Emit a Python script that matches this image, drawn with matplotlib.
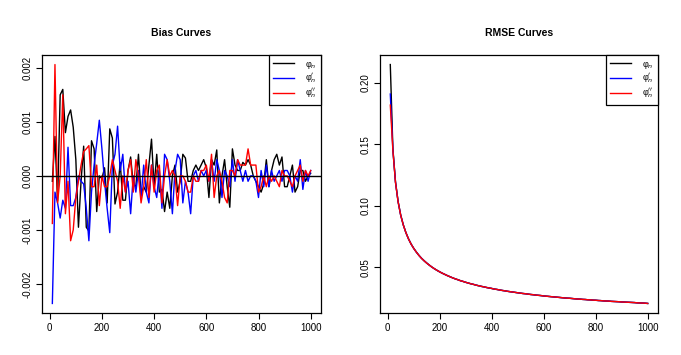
import matplotlib
matplotlib.use("Agg")
import matplotlib.pyplot as plt
import numpy as np

plt.rcParams['font.family'] = ['Liberation Sans', 'DejaVu Sans']
plt.rcParams['mathtext.fontset'] = 'dejavusans'

n_values = list(range(10, 1001, 10))

bias_phi = [
    -0.0001, 0.00073, -0.00047, 0.0015, 0.0016, 0.0008, 0.0011, 0.00122, 0.0009, 0.0003,
    -0.00095, -0.0001, 0.00055, -0.00095, -0.00102, 0.00065, 0.0005, -0.00066, 0.0, -0.00005,
    0.00015, -0.0005, 0.00087, 0.0007, -0.00052, -0.0003, 0.00025, -0.00045, -0.00045, 0.0001,
    0.00035, -0.00015, -0.0002, 0.0004, -0.00035, -0.0002, -0.0003, 0.0002, 0.00068, -0.0002,
    0.0004, -0.0003, -0.00025, -0.00066, -0.0003, -0.0006, 0.0, 0.0002, -0.0003, -0.0001,
    0.0004, 0.00033, -0.0001, -0.0001, 0.0001, 0.0002, 0.0001, 0.0002, 0.0003, 0.00015,
    -0.0004, 0.0003, 0.0002, 0.00048, -0.0005, 0.0, 0.0003, -0.0002, -0.00058, 0.0005,
    0.0002, 0.0001, 0.0001, 0.00025, 0.0002, 0.0003, 0.0002, 0.0, -0.0001, -0.0002,
    -0.0003, -0.00015, 0.0003, -0.0002, 0.0001, 0.0003, 0.0004, 0.0002, 0.00035, -0.0002,
    -0.0002, 0.0, 0.0002, -0.0003, -0.0002, 0.0001, 0.0001, -0.0001, 0.0, 0.00005,
]
bias_phi1 = [
    -0.00236, -0.0003, -0.0005, -0.00078, -0.00045, -0.0006, 0.00053, -0.00055, -0.00055, -0.0004,
    0.0, -0.0001, -0.00015, -0.0006, -0.0012, -0.0003, 0.0002, 0.0006, 0.00103, 0.0005,
    -0.0001, -0.0006, -0.00105, 0.0002, 0.0004, 0.00092, 0.0001, 0.0004, -0.0003, -0.0001,
    -0.0007, 0.0, -0.0003, 0.0001, -0.0004, 0.0002, -0.0003, -0.0005, 0.0002, -0.0002,
    -0.0004, 0.0001, -0.0006, 0.0004, 0.0003, -0.0001, -0.0007, 0.0001, 0.0004, 0.0003,
    -0.0005, -0.0001, -0.0003, -0.0007, 0.0, 0.0001, -0.0001, 0.0001, 0.0, 0.0001,
    -0.0001, 0.0003, -0.0001, 0.0003, 0.0001, -0.0004, 0.0001, 0.0, -0.0002, 0.0003,
    -0.0001, 0.0003, 0.0001, -0.0001, 0.0001, -0.0001, 0.0, 0.0, -0.0001, -0.0004,
    0.0001, -0.0002, 0.0002, -0.0002, 0.0001, -0.0001, 0.0, 0.0001, -0.0001, 0.0001,
    0.0001, 0.0, -0.0003, 0.0, -0.0001, 0.0003, -0.00025, 0.0001, -0.0001, 0.0001,
]
bias_phi2 = [
    -0.00088, 0.00206, -0.0005, 0.0, 0.0015, -0.0007, -0.0001, -0.0012, -0.001, -0.0004,
    -0.0001, 0.0002, 0.00045, 0.0005, 0.00056, -0.0002, -0.0002, 0.0002, -0.00055, 0.0,
    -0.0002, -0.0002, 0.0, 0.0003, 0.0001, -0.0001, -0.0006, 0.0, -0.0003, 0.0001,
    0.0003, -0.0003, 0.0003, 0.0, -0.0005, -0.0002, 0.0003, -0.0004, 0.0002, -0.0003,
    0.0001, 0.0002, -0.0005, 0.0, 0.0003, 0.0, 0.0001, 0.0, -0.00055, 0.0,
    0.0, -0.0001, -0.0003, -0.0003, 0.0, -0.0001, -0.0001, 0.0001, 0.0001, 0.0002,
    -0.0001, 0.0004, -0.0004, 0.0, 0.0001, -0.0001, -0.0004, -0.0005, 0.0001, 0.0001,
    0.0, 0.0003, 0.0002, 0.0002, 0.0002, 0.0005, 0.0002, 0.0002, 0.0002, -0.0003,
    -0.0002, 0.0, -0.0002, 0.0, -0.0001, 0.0, -0.0001, -0.0002, 0.0001, 0.0,
    0.0, -0.0001, -0.0002, 0.0, 0.0001, 0.0002, -0.0001, 0.0001, 0.0, 0.0001,
]

rmse_phi = [
    0.2150, 0.1465, 0.1196, 0.1036, 0.0926, 0.0846, 0.0783, 0.0732, 0.0690, 0.0655,
    0.0625, 0.0598, 0.0574, 0.0554, 0.0535, 0.0518, 0.0502, 0.0488, 0.0475, 0.0463,
    0.0452, 0.0442, 0.0432, 0.0423, 0.0414, 0.0406, 0.0399, 0.0391, 0.0385, 0.0378,
    0.0372, 0.0366, 0.0361, 0.0355, 0.0350, 0.0345, 0.0341, 0.0336, 0.0332, 0.0328,
    0.0323, 0.0320, 0.0316, 0.0312, 0.0309, 0.0305, 0.0302, 0.0299, 0.0296, 0.0293,
    0.0290, 0.0287, 0.0285, 0.0282, 0.0279, 0.0277, 0.0274, 0.0272, 0.0270, 0.0267,
    0.0265, 0.0263, 0.0261, 0.0259, 0.0257, 0.0255, 0.0253, 0.0251, 0.0249, 0.0248,
    0.0246, 0.0244, 0.0242, 0.0241, 0.0239, 0.0238, 0.0236, 0.0235, 0.0233, 0.0232,
    0.0230, 0.0229, 0.0227, 0.0226, 0.0225, 0.0223, 0.0222, 0.0221, 0.0220, 0.0218,
    0.0217, 0.0216, 0.0215, 0.0214, 0.0213, 0.0211, 0.0210, 0.0209, 0.0208, 0.0206,
]
rmse_phi1 = [
    0.1910, 0.1455, 0.1192, 0.1034, 0.0924, 0.0845, 0.0782, 0.0731, 0.0689, 0.0654,
    0.0624, 0.0597, 0.0574, 0.0553, 0.0535, 0.0518, 0.0502, 0.0488, 0.0475, 0.0463,
    0.0452, 0.0442, 0.0432, 0.0423, 0.0414, 0.0406, 0.0399, 0.0391, 0.0385, 0.0378,
    0.0372, 0.0366, 0.0361, 0.0355, 0.0350, 0.0345, 0.0341, 0.0336, 0.0332, 0.0328,
    0.0323, 0.0320, 0.0316, 0.0312, 0.0309, 0.0305, 0.0302, 0.0299, 0.0296, 0.0293,
    0.0290, 0.0287, 0.0285, 0.0282, 0.0279, 0.0277, 0.0274, 0.0272, 0.0270, 0.0267,
    0.0265, 0.0263, 0.0261, 0.0259, 0.0257, 0.0255, 0.0253, 0.0251, 0.0249, 0.0248,
    0.0246, 0.0244, 0.0242, 0.0241, 0.0239, 0.0238, 0.0236, 0.0235, 0.0233, 0.0232,
    0.0230, 0.0229, 0.0227, 0.0226, 0.0225, 0.0223, 0.0222, 0.0221, 0.0220, 0.0218,
    0.0217, 0.0216, 0.0215, 0.0214, 0.0213, 0.0211, 0.0210, 0.0209, 0.0208, 0.0206,
]
rmse_phi2 = [
    0.1820, 0.1450, 0.1190, 0.1033, 0.0924, 0.0844, 0.0782, 0.0731, 0.0689, 0.0654,
    0.0624, 0.0597, 0.0573, 0.0553, 0.0534, 0.0518, 0.0502, 0.0488, 0.0475, 0.0463,
    0.0452, 0.0442, 0.0432, 0.0423, 0.0414, 0.0406, 0.0399, 0.0391, 0.0385, 0.0378,
    0.0372, 0.0366, 0.0361, 0.0355, 0.0350, 0.0345, 0.0341, 0.0336, 0.0332, 0.0328,
    0.0323, 0.0320, 0.0316, 0.0312, 0.0309, 0.0305, 0.0302, 0.0299, 0.0296, 0.0293,
    0.0290, 0.0287, 0.0285, 0.0282, 0.0279, 0.0277, 0.0274, 0.0272, 0.0270, 0.0267,
    0.0265, 0.0263, 0.0261, 0.0259, 0.0257, 0.0255, 0.0253, 0.0251, 0.0249, 0.0248,
    0.0246, 0.0244, 0.0242, 0.0241, 0.0239, 0.0238, 0.0236, 0.0235, 0.0233, 0.0232,
    0.0230, 0.0229, 0.0227, 0.0226, 0.0225, 0.0223, 0.0222, 0.0221, 0.0220, 0.0218,
    0.0217, 0.0216, 0.0215, 0.0214, 0.0213, 0.0211, 0.0210, 0.0209, 0.0208, 0.0206,
]

series_labels = ["φ" + r"$_n$", "φ" + r"$_n^{\prime}$", "φ" + r"$_n^{\prime\prime}$"]
series_colors = ["black", "blue", "red"]
x_ticks = [0, 200, 400, 600, 800, 1000]
bias_yticks = [-0.002, -0.001, 0.0, 0.001, 0.002]
bias_yticklabels = ["-0.002", "-0.001", "0.000", "0.001", "0.002"]
rmse_yticks = [0.05, 0.10, 0.15, 0.20]
rmse_yticklabels = ["0.05", "0.10", "0.15", "0.20"]

fig = plt.figure(figsize=(6.81, 3.55), dpi=100)
ax1 = fig.add_axes([0.0617, 0.1183, 0.4097, 0.7268])
ax2 = fig.add_axes([0.558, 0.1183, 0.4082, 0.7268])


def r_style(ax, data_list, yticks, yticklabels, title):
    allv = np.concatenate([np.asarray(d) for d in data_list])
    lo, hi = allv.min(), allv.max()
    pad = 0.04 * (hi - lo)
    ax.set_ylim(lo - pad, hi + pad)
    xpad = 0.04 * (max(n_values) - min(n_values))
    ax.set_xlim(min(n_values) - xpad, max(n_values) + xpad)
    ax.set_xticks(x_ticks)
    ax.set_xticklabels([str(t) for t in x_ticks], fontsize=7)
    ax.set_yticks(yticks)
    ax.set_yticklabels(yticklabels, fontsize=7, rotation=90, va='center')
    ax.tick_params(direction='out', length=4, width=0.8, pad=3)
    for s in ax.spines.values():
        s.set_linewidth(0.9)
    ax.set_title(title, fontsize=7.5, fontweight='bold', pad=14)


for d, c, lab in zip([bias_phi, bias_phi1, bias_phi2], series_colors, series_labels):
    ax1.plot(n_values, d, color=c, lw=1.0, label=lab)
ax1.axhline(0, color='black', lw=1.0)
r_style(ax1, [bias_phi, bias_phi1, bias_phi2], bias_yticks, bias_yticklabels, "Bias Curves")

for d, c, lab in zip([rmse_phi, rmse_phi1, rmse_phi2], series_colors, series_labels):
    ax2.plot(n_values, d, color=c, lw=1.0, label=lab)
r_style(ax2, [rmse_phi, rmse_phi1, rmse_phi2], rmse_yticks, rmse_yticklabels, "RMSE Curves")

for ax in (ax1, ax2):
    leg = ax.legend(loc='upper right', borderaxespad=0, fancybox=False,
                    edgecolor='black', fontsize=6.5, handlelength=2.3,
                    labelspacing=0.15, borderpad=0.5, handletextpad=1.2,
                    framealpha=1)
    leg.get_frame().set_linewidth(0.9)
    for h in leg.get_lines():
        h.set_linewidth(1.0)

fig.savefig("out.png", dpi=100)
